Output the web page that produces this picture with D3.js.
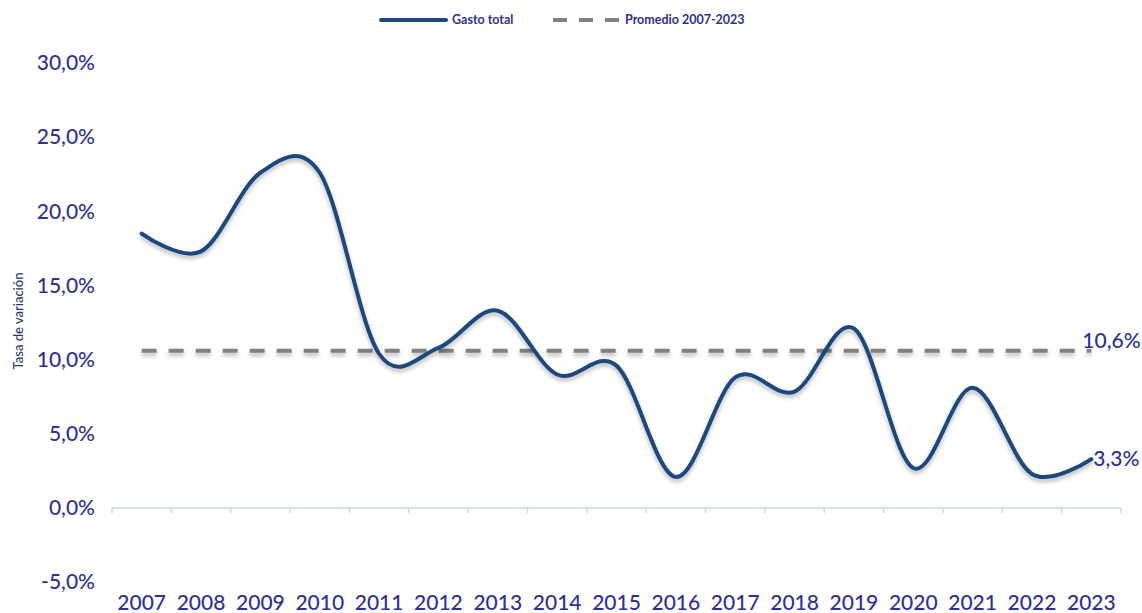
<!DOCTYPE html>
<html>
<head>
<meta charset="utf-8">
<script src="https://cdn.jsdelivr.net/npm/d3@7"></script>
<style>
  html, body { margin: 0; padding: 0; background: #fff; }
  svg { display: block; }
  text { font-family: Lato, "Noto Sans", sans-serif; }
</style>
</head>
<body>
<svg id="chart" width="1142" height="613"></svg>
<script>
// ---- Data ----
const years = ["2007","2008","2009","2010","2011","2012","2013","2014","2015","2016","2017","2018","2019","2020","2021","2022","2023"];
const gastoTotal = [18.5, 17.3, 22.6, 22.6, 10.4, 10.8, 13.3, 9.0, 9.6, 2.1, 8.8, 7.85, 12.1, 2.7, 8.1, 2.3, 3.3];
const promedio = [10.6, 10.6, 10.6, 10.6, 10.6, 10.6, 10.6, 10.6, 10.6, 10.6, 10.6, 10.6, 10.6, 10.6, 10.6, 10.6, 10.6];
const yTicks = [-5, 0, 5, 10, 15, 20, 25, 30];
const seriesNames = ["Gasto total", "Promedio 2007-2023"];
const axisTitle = "Tasa de variación";

// ---- Setup ----
const svg = d3.select("#chart");
const textColor = "#2e3192";
const lineColor = "#1f497d";
const avgColor = "#808080";

const x = d3.scaleBand().domain(years).range([112, 1121]);
const y = d3.scaleLinear().domain([-5, 30]).range([582.2, 63]);
const fmt = v => d3.format(".1f")(v).replace(".", ",").replace("\u2212", "-") + "%";

const defs = svg.append("defs");
const f = defs.append("filter").attr("id", "shadow")
  .attr("filterUnits", "userSpaceOnUse")
  .attr("x", 0).attr("y", 0).attr("width", 1142).attr("height", 613);
f.append("feDropShadow").attr("dx", 0).attr("dy", 3).attr("stdDeviation", 2)
  .attr("flood-color", "#000").attr("flood-opacity", 0.28);

// Y axis labels
const yAxis = d3.axisLeft(y).tickValues(yTicks).tickSize(0).tickPadding(17).tickFormat(fmt);
const gy = svg.append("g").attr("transform", "translate(112,0)").call(yAxis);
gy.select(".domain").remove();
gy.selectAll("text").attr("fill", textColor).style("font-size", "21px").style("font-weight", "500").attr("dy", "0.32em");

// X axis line at 0 with ticks at band boundaries
const axisY = y(0);
const gx = svg.append("g");
gx.append("line").attr("x1", x.range()[0]).attr("x2", x.range()[1])
  .attr("y1", axisY).attr("y2", axisY).attr("stroke", "#c9d8f0").attr("stroke-width", 1.5);
const bounds = years.map(d => x(d)).concat([x(years[years.length-1]) + x.bandwidth()]);
gx.selectAll("line.tick").data(bounds).enter().append("line")
  .attr("class", "tick")
  .attr("x1", d => d).attr("x2", d => d)
  .attr("y1", axisY).attr("y2", axisY + 5)
  .attr("stroke", "#c9d8f0").attr("stroke-width", 1.5);

// X labels at low position
const xAxis = d3.axisBottom(x).tickSize(0).tickPadding(0);
const gxl = svg.append("g").attr("transform", "translate(0,603)").call(xAxis);
gxl.select(".domain").remove();
gxl.selectAll("text").attr("fill", textColor).style("font-size", "21px").style("font-weight", "500").attr("dy", "0.32em");

// Y axis title
svg.append("text")
  .attr("transform", "translate(18,321) rotate(-90)")
  .attr("text-anchor", "middle")
  .attr("dy", "0.35em")
  .attr("fill", "#1f3a6e")
  .style("font-size", "13px")
  .style("font-weight", "500")
  .text(axisTitle);

// Average line
const cx = d => x(d) + x.bandwidth() / 2;
const avgLine = d3.line().x((d, i) => cx(years[i])).y(d => y(d));
svg.append("path").datum(promedio)
  .attr("d", avgLine)
  .attr("fill", "none").attr("stroke", avgColor).attr("stroke-width", 4)
  .attr("stroke-dasharray", "15,12")
  .attr("filter", "url(#shadow)");

// Main line
const mainLine = d3.line().x((d, i) => cx(years[i])).y(d => y(d)).curve(d3.curveCardinal.tension(0));
svg.append("path").datum(gastoTotal)
  .attr("d", mainLine)
  .attr("fill", "none").attr("stroke", lineColor).attr("stroke-width", 4)
  .attr("stroke-linecap", "round")
  .attr("filter", "url(#shadow)");

// End labels
const lastIdx = years.length - 1;
svg.append("text")
  .attr("x", cx(years[lastIdx]) - 9).attr("y", y(promedio[lastIdx]) - 10)
  .attr("dy", "0.32em").attr("fill", textColor).style("font-size", "21px").style("font-weight", "500")
  .text(fmt(promedio[lastIdx]));
svg.append("text")
  .attr("x", cx(years[lastIdx]) + 2).attr("y", y(gastoTotal[lastIdx]))
  .attr("dy", "0.32em").attr("fill", textColor).style("font-size", "21px").style("font-weight", "500")
  .text(fmt(gastoTotal[lastIdx]));

// Legend
const lg = svg.append("g");
lg.append("line").attr("x1", 381).attr("x2", 446).attr("y1", 20).attr("y2", 20)
  .attr("stroke", lineColor).attr("stroke-width", 4).attr("stroke-linecap", "round");
lg.append("text").attr("x", 452).attr("y", 20).attr("dy", "0.35em")
  .attr("fill", textColor).style("font-size", "12.5px").style("font-weight", "bold")
  .text(seriesNames[0]);
lg.append("line").attr("x1", 553).attr("x2", 619).attr("y1", 20).attr("y2", 20)
  .attr("stroke", avgColor).attr("stroke-width", 4)
  .attr("stroke-dasharray", "14,12");
lg.append("text").attr("x", 625).attr("y", 20).attr("dy", "0.35em")
  .attr("fill", textColor).style("font-size", "12.5px").style("font-weight", "bold")
  .text(seriesNames[1]);
</script>
</body>
</html>
